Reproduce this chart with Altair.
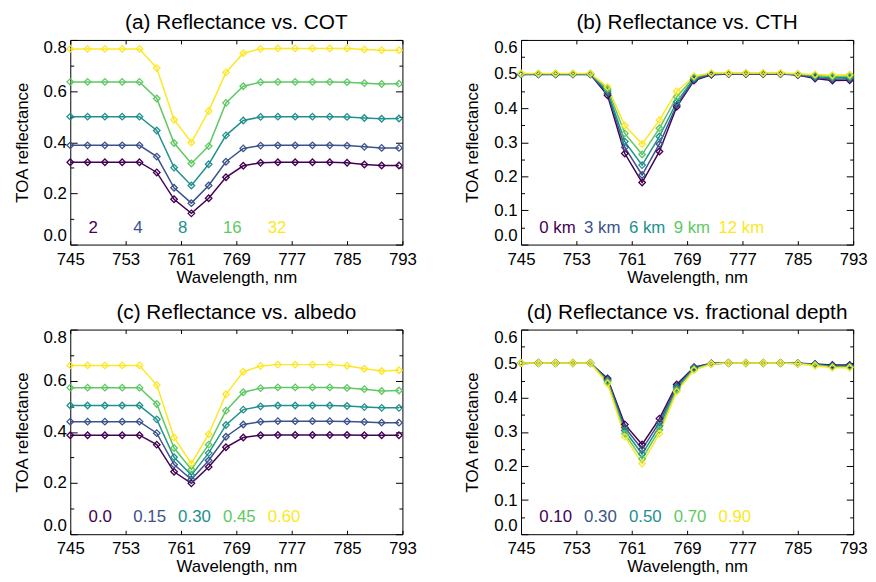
import altair as alt
import pandas as pd

# ---------------- data ----------------
wavelength = [745.0, 747.5, 750.0, 752.5, 755.0, 757.5, 760.0, 762.5, 765.0, 767.5,
              770.0, 772.5, 775.0, 777.5, 780.0, 782.5, 785.0, 787.5, 790.0, 792.5]

colors = ["#440154", "#3b528b", "#21918c", "#5ec962", "#fde725"]

# (a) COT
cot_labels = ["2", "4", "8", "16", "32"]
cot_2 = [0.322, 0.322, 0.322, 0.322, 0.322, 0.282, 0.177, 0.122, 0.181, 0.263,
         0.308, 0.320, 0.322, 0.322, 0.322, 0.322, 0.320, 0.313, 0.309, 0.309]
cot_4 = [0.388, 0.388, 0.388, 0.388, 0.388, 0.344, 0.222, 0.162, 0.231, 0.324,
         0.376, 0.387, 0.388, 0.388, 0.388, 0.388, 0.387, 0.382, 0.378, 0.378]
cot_8 = [0.500, 0.500, 0.500, 0.500, 0.500, 0.446, 0.301, 0.231, 0.314, 0.427,
         0.485, 0.499, 0.500, 0.500, 0.500, 0.500, 0.499, 0.495, 0.492, 0.493]
cot_16 = [0.636, 0.636, 0.636, 0.636, 0.636, 0.571, 0.397, 0.317, 0.385, 0.554,
          0.619, 0.635, 0.636, 0.636, 0.636, 0.636, 0.635, 0.631, 0.628, 0.629]
cot_32 = [0.765, 0.765, 0.765, 0.765, 0.765, 0.690, 0.488, 0.399, 0.522, 0.673,
          0.748, 0.765, 0.767, 0.767, 0.767, 0.767, 0.767, 0.763, 0.760, 0.760]

# (b) CTH
cth_labels = ["0 km", "3 km", "6 km", "9 km", "12 km"]
cth_0 = [0.499, 0.499, 0.499, 0.499, 0.499, 0.438, 0.267, 0.182, 0.273, 0.404,
         0.481, 0.498, 0.500, 0.500, 0.500, 0.500, 0.497, 0.487, 0.481, 0.482]
cth_3 = [0.500, 0.500, 0.500, 0.500, 0.500, 0.444, 0.285, 0.204, 0.295, 0.409,
         0.484, 0.499, 0.501, 0.501, 0.501, 0.501, 0.498, 0.490, 0.485, 0.486]
cth_6 = [0.500, 0.500, 0.500, 0.500, 0.500, 0.450, 0.302, 0.233, 0.317, 0.418,
         0.488, 0.501, 0.502, 0.502, 0.502, 0.502, 0.499, 0.493, 0.489, 0.490]
cth_9 = [0.501, 0.501, 0.501, 0.501, 0.501, 0.456, 0.326, 0.264, 0.341, 0.433,
         0.491, 0.502, 0.502, 0.502, 0.502, 0.502, 0.500, 0.496, 0.493, 0.494]
cth_12 = [0.502, 0.502, 0.502, 0.502, 0.502, 0.462, 0.349, 0.295, 0.365, 0.449,
          0.494, 0.503, 0.503, 0.503, 0.503, 0.503, 0.501, 0.499, 0.497, 0.498]

# (c) albedo
alb_labels = ["0.0", "0.15", "0.30", "0.45", "0.60"]
alb_00 = [0.387, 0.387, 0.387, 0.387, 0.387, 0.350, 0.244, 0.199, 0.263, 0.340,
          0.378, 0.387, 0.388, 0.388, 0.388, 0.388, 0.388, 0.387, 0.387, 0.387]
alb_15 = [0.440, 0.440, 0.440, 0.440, 0.440, 0.395, 0.272, 0.214, 0.288, 0.381,
          0.429, 0.440, 0.442, 0.442, 0.442, 0.442, 0.441, 0.439, 0.436, 0.436]
alb_30 = [0.503, 0.503, 0.503, 0.503, 0.503, 0.449, 0.301, 0.231, 0.317, 0.427,
          0.487, 0.500, 0.503, 0.503, 0.503, 0.503, 0.501, 0.497, 0.494, 0.494]
alb_45 = [0.573, 0.573, 0.573, 0.573, 0.573, 0.509, 0.337, 0.253, 0.350, 0.483,
          0.555, 0.571, 0.574, 0.574, 0.574, 0.574, 0.572, 0.567, 0.560, 0.562]
alb_60 = [0.660, 0.660, 0.660, 0.660, 0.660, 0.583, 0.378, 0.276, 0.391, 0.547,
          0.635, 0.658, 0.663, 0.663, 0.663, 0.663, 0.659, 0.647, 0.638, 0.641]

# (d) fractional depth
fd_labels = ["0.10", "0.30", "0.50", "0.70", "0.90"]
fd_10 = [0.502, 0.502, 0.502, 0.502, 0.502, 0.457, 0.322, 0.263, 0.339, 0.439,
         0.490, 0.501, 0.502, 0.502, 0.502, 0.502, 0.501, 0.499, 0.496, 0.496]
fd_30 = [0.502, 0.502, 0.502, 0.502, 0.502, 0.453, 0.313, 0.249, 0.328, 0.434,
         0.488, 0.500, 0.502, 0.502, 0.502, 0.502, 0.501, 0.498, 0.494, 0.494]
fd_50 = [0.502, 0.502, 0.502, 0.502, 0.502, 0.450, 0.304, 0.235, 0.317, 0.429,
         0.486, 0.500, 0.502, 0.502, 0.502, 0.502, 0.501, 0.497, 0.492, 0.492]
fd_70 = [0.502, 0.502, 0.502, 0.502, 0.502, 0.446, 0.295, 0.221, 0.306, 0.423,
         0.483, 0.499, 0.502, 0.502, 0.502, 0.502, 0.500, 0.496, 0.490, 0.490]
fd_90 = [0.502, 0.502, 0.502, 0.502, 0.502, 0.442, 0.286, 0.207, 0.295, 0.418,
         0.481, 0.499, 0.502, 0.502, 0.502, 0.502, 0.500, 0.494, 0.488, 0.488]

x_ticks = [745, 753, 761, 769, 777, 785, 793]

# ---------------- layout constants ----------------
FONT = "Liberation Sans"
W, H = 336, 207
XMIN, XMAX = 745, 793


def make_panel(title, labels, series, ymax, ystep):
    rows = []
    for k, (lab, vals) in enumerate(zip(labels, series)):
        for wl, r in zip(wavelength, vals):
            rows.append({"wl": wl, "r": r, "s": lab, "k": k})
    df = pd.DataFrame(rows)

    # label annotations, positioned in plot units
    px = (XMAX - XMIN) / W
    lab_df = pd.DataFrame({
        "s": labels,
        "wl": [XMIN + (18.5 + 45.3 * i) * px for i in range(len(labels))],
        "r": [ymax * 12.0 / H] * len(labels),
    })

    n_major = int(round(ymax / ystep))
    major = [round(i * ystep, 4) for i in range(n_major + 1)]
    minor = [round((i + 0.5) * ystep, 4) for i in range(n_major)]

    xs = alt.Scale(domain=[XMIN, XMAX], nice=False, zero=False)
    ys = alt.Scale(domain=[0, ymax], nice=False, zero=False)
    cs = alt.Scale(domain=labels, range=colors)

    tick_common = dict(labels=False, domain=False, grid=False, title=None, ticks=True,
                       tickColor="black", tickWidth=1)

    x_main = alt.Axis(orient="bottom", values=x_ticks, ticks=False, domain=False,
                      labelPadding=7, labelFlush=False, title="Wavelength, nm",
                      titlePadding=2, grid=False)
    y_main = alt.Axis(orient="left", values=major, ticks=False, domain=False, format=".1f",
                      labelPadding=4, labelFlush=True, title="TOA reflectance",
                      titlePadding=12, grid=False)

    lines = alt.Chart(df).mark_line(strokeWidth=1.5).encode(
        x=alt.X("wl:Q", scale=xs, axis=x_main),
        y=alt.Y("r:Q", scale=ys, axis=y_main),
        color=alt.Color("s:N", scale=cs, legend=None),
        detail="k:N",
    )
    points = alt.Chart(df).mark_point(shape="diamond", filled=False, size=44,
                                      strokeWidth=1.3, opacity=1).encode(
        x=alt.X("wl:Q", scale=xs,
                axis=alt.Axis(orient="top", values=x_ticks, offset=-4, tickSize=4, **tick_common)),
        y=alt.Y("r:Q", scale=ys,
                axis=alt.Axis(orient="left", values=major, offset=-7, tickSize=7, **tick_common)),
        color=alt.Color("s:N", scale=cs, legend=None),
    )
    texts = alt.Chart(lab_df).mark_text(align="left", baseline="alphabetic", font=FONT,
                                        fontSize=17).encode(
        x=alt.X("wl:Q", scale=xs,
                axis=alt.Axis(orient="bottom", values=x_ticks, offset=-4, tickSize=4, **tick_common)),
        y=alt.Y("r:Q", scale=ys,
                axis=alt.Axis(orient="left", values=minor, offset=-3.5, tickSize=3.5, **tick_common)),
        text="s:N",
        color=alt.Color("s:N", scale=cs, legend=None),
    )
    ghost1 = alt.Chart(lab_df).mark_point(opacity=0).encode(
        x=alt.X("wl:Q", scale=xs, axis=None),
        y=alt.Y("r:Q", scale=ys,
                axis=alt.Axis(orient="right", values=major, offset=-7, tickSize=7, **tick_common)),
    )
    ghost2 = alt.Chart(lab_df).mark_point(opacity=0).encode(
        x=alt.X("wl:Q", scale=xs, axis=None),
        y=alt.Y("r:Q", scale=ys,
                axis=alt.Axis(orient="right", values=minor, offset=-3.5, tickSize=3.5, **tick_common)),
    )
    return alt.layer(lines, points, texts, ghost1, ghost2).resolve_axis(
        x="independent", y="independent"
    ).properties(
        width=W, height=H,
        title=alt.Title(title, font=FONT, fontSize=21, fontWeight="normal", color="black",
                        offset=6, anchor="middle"),
    )


pa = make_panel("(a) Reflectance vs. COT", cot_labels,
                [cot_2, cot_4, cot_8, cot_16, cot_32], 0.8, 0.2)
pb = make_panel("(b) Reflectance vs. CTH", cth_labels,
                [cth_0, cth_3, cth_6, cth_9, cth_12], 0.6, 0.1)
pc = make_panel("(c) Reflectance vs. albedo", alb_labels,
                [alb_00, alb_15, alb_30, alb_45, alb_60], 0.8, 0.2)
pd_ = make_panel("(d) Reflectance vs. fractional depth", fd_labels,
                 [fd_10, fd_30, fd_50, fd_70, fd_90], 0.6, 0.1)

chart = alt.concat(
    pa, pb, pc, pd_, columns=2, spacing={"row": 86, "column": 120}, bounds="flush"
).resolve_scale(
    color="independent", x="independent", y="independent"
).properties(
    padding={"left": 4, "top": 0, "right": 0, "bottom": 0},
).configure_view(
    stroke="black", strokeWidth=1
).configure_axis(
    labelFont=FONT, labelFontSize=17, labelColor="black",
    titleFont=FONT, titleFontSize=17, titleFontWeight="normal", titleColor="black",
)

chart.save("out.html", embed_options={"renderer": "svg", "actions": False})
